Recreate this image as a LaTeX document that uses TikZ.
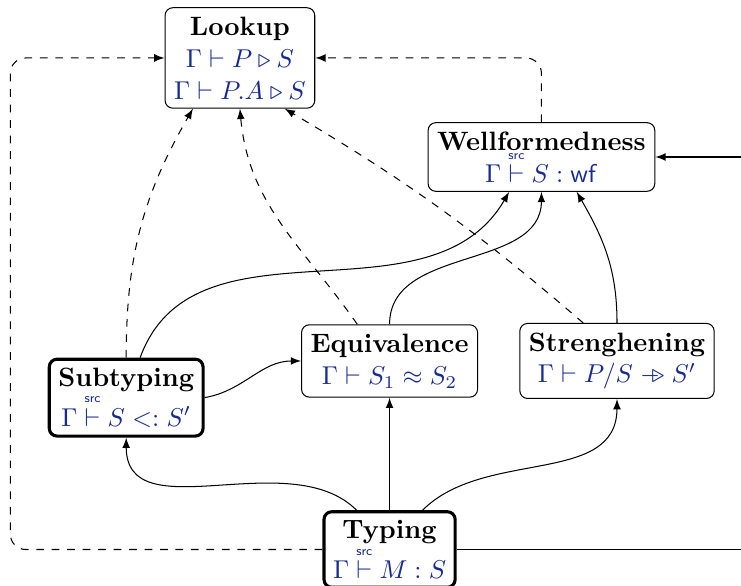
\documentclass[tikz,border=0pt]{standalone}
\usepackage{amsmath}
\definecolor{judgblue}{RGB}{22,42,145}
\newcommand{\srcvdash}{\mathrel{\overset{\scriptscriptstyle\mathsf{src}}{\vdash}}}
\newcommand{\jd}[1]{\textcolor{judgblue}{$#1$}}
\tikzset{
  judgment/.style={draw, rounded corners=3pt, align=center, fill=white, inner xsep=3.5pt, inner ysep=3.5pt,
    font=\fontsize{10.3}{12.4}\selectfont},
  mainjudgment/.style={judgment, very thick},
}

\begin{document}
\begin{tikzpicture}[>=latex]
    \clip (0,0) rectangle (10.10,-7.98);

    % Judgments
    \node[judgment] (lookup) at (3.27,-0.79) {\textbf{Lookup}\\ \jd{\Gamma \vdash P \triangleright S}\\ \jd{\Gamma \vdash P.A \triangleright S}};
    \node[judgment] (wf) at (7.38,-2.14) {\textbf{Wellformedness}\\ \jd{\Gamma \srcvdash S : \mathsf{wf}}};
    \node[mainjudgment] (sub) at (1.72,-5.42) {\textbf{Subtyping}\\ \jd{\Gamma \srcvdash S <: S'}};
    \node[judgment] (eq) at (5.31,-4.92) {\textbf{Equivalence}\\ \jd{\Gamma \vdash S_1 \approx S_2}};
    \node[judgment] (str) at (8.41,-4.92) {\textbf{Strenghening}\\ \jd{\Gamma \vdash P/S \mathrel{-\!\!\triangleright} S'}};
    \node[mainjudgment] (typing) at (5.31,-7.49) {\textbf{Typing}\\ \jd{\Gamma \srcvdash M : S}};

    % Rails at the picture border
    \coordinate (leftrail) at (0.14,0);
    \coordinate (rightedge) at (10.10,0);

    % Uses of lookup (dashed)
    \draw[->, dashed, rounded corners=6pt] (typing.west) -| (leftrail |- lookup.west) -- (lookup.west);
    \draw[->, dashed, rounded corners=6pt] (wf.north) |- (lookup.east);
    \draw[->, dashed] (sub.north) to[out=90, in=-120] ([xshift=-0.64cm]lookup.south);
    \draw[->, dashed] ([xshift=-0.44cm]eq.north) to[out=125, in=-85] (lookup.south);
    \draw[->, dashed] ([xshift=-0.46cm]str.north) to[bend right=5] ([xshift=0.61cm]lookup.south);

    % Uses of wellformedness
    \draw[->] ([xshift=0.19cm]sub.north) to[out=70, in=-120] ([xshift=-0.44cm]wf.south);
    \draw[->] (eq.north) to[out=90, in=-90] (wf.south);
    \draw[->] (str.north) to[out=90, in=-60] ([xshift=0.48cm]wf.south);
    \draw[->] (rightedge |- wf.east) -- (wf.east);

    % Typing and subtyping
    \draw[->] (sub.east) to[out=10, in=180] (eq.west);
    \draw[->] ([xshift=-0.45cm]typing.north) to[out=135, in=-90] (sub.south);
    \draw[->] (typing.north) -- (eq.south);
    \draw[->] ([xshift=0.45cm]typing.north) to[out=45, in=-90] (str.south);
    \draw (typing.east) -- (rightedge |- typing.east);
\end{tikzpicture}
\end{document}
